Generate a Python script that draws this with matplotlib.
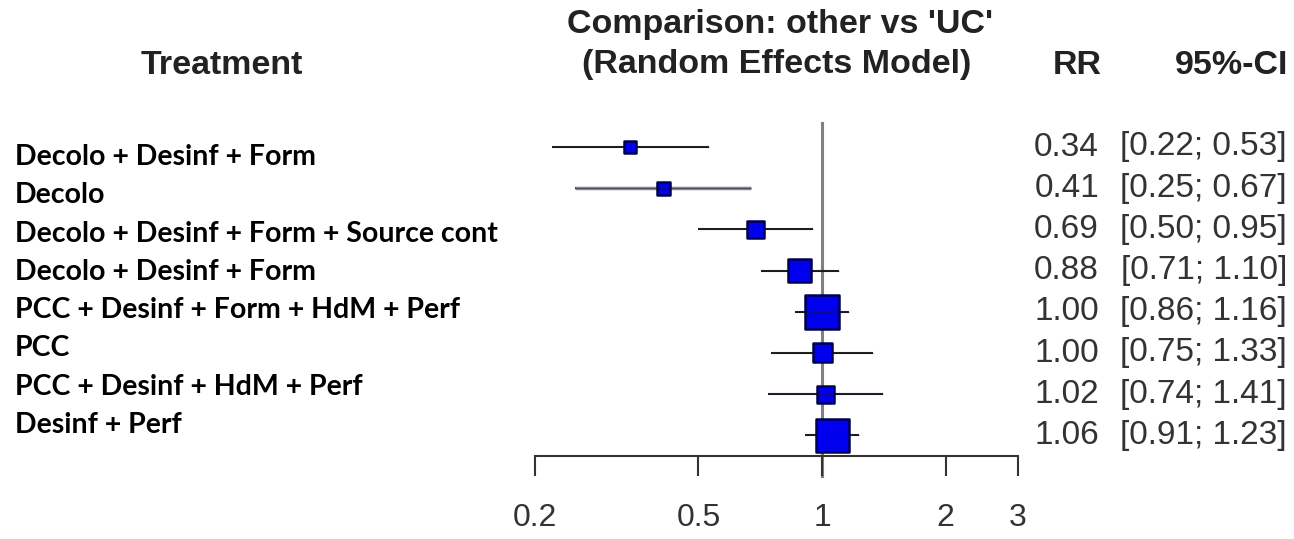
"""Forest plot: other treatments vs 'UC' (random effects model)."""

import matplotlib

matplotlib.use("Agg")
import matplotlib.pyplot as plt
import numpy as np

treatments = [
    "Decolo + Desinf + Form",
    "Decolo",
    "Decolo + Desinf + Form + Source cont",
    "Decolo + Desinf + Form",
    "PCC + Desinf + Form + HdM + Perf",
    "PCC",
    "PCC + Desinf + HdM + Perf",
    "Desinf + Perf",
]
rr = [0.34, 0.41, 0.69, 0.88, 1.00, 1.00, 1.02, 1.06]
ci_low = [0.22, 0.25, 0.50, 0.71, 0.86, 0.75, 0.74, 0.91]
ci_high = [0.53, 0.67, 0.95, 1.10, 1.16, 1.33, 1.41, 1.23]
weights = [3.6, 4.2, 7.2, 13.1, 28.7, 9.0, 7.2, 27.0]  # percent, random effects
x_ticks = [0.2, 0.5, 1, 2, 3]

W, H = 1294, 539


def fx(px):
    return px / W


def fy(py):
    return 1 - py / H


fig = plt.figure(figsize=(W / 100, H / 100), dpi=100)

# forest panel: x from 0.2 (px 535) to 3 (px 1018), rows from y px 123 to 456
ax = fig.add_axes([fx(535), fy(456), fx(1018) - fx(535), (456 - 123) / H])
ax.set_xscale("log")
ax.set_xlim(0.2, 3)
rows = np.arange(len(rr))
ax.set_ylim(7.5, -0.58)

for spine in ["top", "right", "left"]:
    ax.spines[spine].set_visible(False)
ax.spines["bottom"].set_linewidth(1.5)
ax.spines["bottom"].set_color("#333333")
ax.set_yticks([])
ax.set_xticks(x_ticks)
ax.set_xticklabels([f"{t:g}" for t in x_ticks])
ax.xaxis.set_minor_locator(matplotlib.ticker.NullLocator())
ax.tick_params(axis="x", direction="out", length=14.5, width=1.5, color="#333333",
               pad=19, labelsize=23, labelcolor="#333333")
for lab in ax.get_xticklabels():
    lab.set_family("Liberation Sans")

ax.axvline(1, ymin=-20 / 333, ymax=1, color="#808080", lw=2.2, clip_on=False, zorder=1)

ax.hlines(rows, ci_low, ci_high, color="#222222", lw=1.5, zorder=2)
ax.hlines(rows[1], ci_low[1], ci_high[1], color="#8a8a8a", lw=2.5, zorder=2)
side_pt = 6.35 * np.sqrt(weights) * 0.72
ax.scatter(rr, rows, s=side_pt ** 2, marker="s", facecolor="#0000ee",
           edgecolor="#000050", linewidth=1.8, zorder=3)
ax.hlines(rows, ci_low, ci_high, color="#111133", lw=0.6, alpha=0.6, zorder=4)

# headers
hdr = dict(family="Liberation Sans", weight="bold", fontsize=24.5, color="#222222",
           va="center")
fig.text(fx(222), fy(65), "Treatment", ha="center", **hdr)
fig.text(fx(780), fy(25), "Comparison: other vs 'UC'", ha="center", **hdr)
fig.text(fx(777), fy(64), "(Random Effects Model)", ha="center", **hdr)
fig.text(fx(1102), fy(65), "RR", ha="right", **hdr)
fig.text(fx(1288), fy(65), "95%-CI", ha="right", **hdr)

# values column
for i in rows:
    y = 147 + 41.2 * i
    fig.text(fx(1099), fy(y), f"{rr[i]:.2f}", ha="right", va="center",
             family="Liberation Sans", fontsize=24, color="#333333")
    fig.text(fx(1287), fy(y), f"[{ci_low[i]:.2f}; {ci_high[i]:.2f}]", ha="right",
             va="center", family="Liberation Sans", fontsize=24, color="#333333")

# treatment labels (pasted in a different font)
for i, name in enumerate(treatments):
    fig.text(fx(15), fy(157 + 38.3 * i), name, ha="left", va="center",
             family="Lato", weight="bold", fontsize=20.5, color="black")

fig.savefig("out.png", dpi=100)
